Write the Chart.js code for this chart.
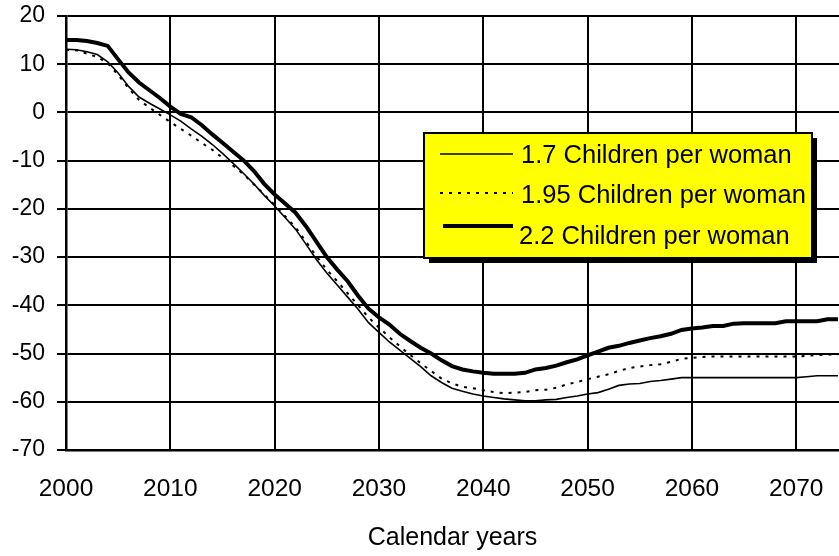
<!DOCTYPE html>
<html>
<head>
<meta charset="utf-8">
<script src="https://cdn.jsdelivr.net/npm/chart.js@4/dist/chart.umd.min.js"></script>
<style>
  html, body { margin: 0; padding: 0; background: #fff; }
  #wrap { width: 839px; height: 556px; }
</style>
</head>
<body>
<div id="wrap"><canvas id="chart"></canvas></div>
<script>
'use strict';

/* Data */
const years = [
  2000, 2001, 2002, 2003, 2004, 2005, 2006, 2007, 2008, 2009,
  2010, 2011, 2012, 2013, 2014, 2015, 2016, 2017, 2018, 2019,
  2020, 2021, 2022, 2023, 2024, 2025, 2026, 2027, 2028, 2029,
  2030, 2031, 2032, 2033, 2034, 2035, 2036, 2037, 2038, 2039,
  2040, 2041, 2042, 2043, 2044, 2045, 2046, 2047, 2048, 2049,
  2050, 2051, 2052, 2053, 2054, 2055, 2056, 2057, 2058, 2059,
  2060, 2061, 2062, 2063, 2064, 2065, 2066, 2067, 2068, 2069,
  2070, 2071, 2072, 2073, 2074
];

const seriesLabels = ['1.7 Children per woman', '1.95 Children per woman', '2.2 Children per woman'];

const low = [
  13.1, 13.0, 12.6, 12.0, 10.5, 8.2, 5.4, 3.2, 1.9, 0.7,
  -0.5, -1.8, -3.4, -4.9, -6.6, -8.5, -10.5, -12.6, -14.8, -17.2,
  -19.4, -21.8, -24.2, -27.3, -30.5, -33.3, -35.8, -38.3, -40.8, -43.6,
  -45.6, -47.6, -49.3, -51.0, -52.7, -54.6, -56.0, -57.2, -57.8, -58.4,
  -58.8, -59.1, -59.4, -59.6, -59.8, -59.8, -59.6, -59.5, -59.1, -58.8,
  -58.4, -58.1, -57.4, -56.6, -56.3, -56.2, -55.8, -55.6, -55.3, -55.0,
  -55.0, -55.0, -55.0, -55.0, -55.0, -55.0, -55.0, -55.0, -55.0, -55.0,
  -55.0, -54.8, -54.6, -54.6, -54.6
];

const mid = [
  13.0, 12.9, 12.2, 11.5, 10.2, 7.8, 5.0, 2.6, 1.0, -0.5,
  -2.0, -3.4, -4.8, -6.3, -7.7, -9.4, -11.0, -12.8, -14.9, -17.0,
  -19.2, -21.5, -23.8, -26.8, -29.8, -32.6, -35.0, -37.5, -40.0, -42.5,
  -44.6, -46.6, -48.5, -50.3, -52.0, -53.6, -55.2, -56.2, -56.9, -57.2,
  -57.6, -58.0, -58.2, -58.1, -58.0, -57.6, -57.5, -57.1, -56.4, -55.9,
  -55.3, -54.8, -54.3, -53.6, -53.0, -52.7, -52.4, -52.2, -51.7, -51.1,
  -50.9, -50.7, -50.6, -50.6, -50.6, -50.6, -50.6, -50.6, -50.6, -50.6,
  -50.6, -50.5, -50.3, -50.2, -50.2
];

const high = [
  15.0, 15.0, 14.8, 14.4, 13.8, 11.0, 8.3, 6.2, 4.6, 3.0,
  1.2, -0.3, -1.0, -2.6, -4.5, -6.3, -8.1, -9.9, -12.1, -14.8,
  -17.0, -18.9, -20.8, -23.6, -26.8, -30.0, -32.6, -35.0, -38.0, -40.7,
  -42.5, -44.0, -45.9, -47.4, -48.8, -50.0, -51.4, -52.6, -53.3, -53.7,
  -54.0, -54.2, -54.2, -54.2, -54.0, -53.3, -53.0, -52.5, -51.8, -51.2,
  -50.4, -49.6, -48.8, -48.4, -47.8, -47.3, -46.8, -46.4, -45.9, -45.1,
  -44.8, -44.6, -44.3, -44.3, -43.8, -43.7, -43.7, -43.7, -43.7, -43.3,
  -43.3, -43.3, -43.3, -42.9, -42.9
];

const xTicks = [2000, 2010, 2020, 2030, 2040, 2050, 2060, 2070];
const yTicks = [20, 10, 0, -10, -20, -30, -40, -50, -60, -70];
const xTitle = 'Calendar years';

const FONT = 'Liberation Sans, Arial, sans-serif';

function toPoints(values) {
  return values.map((v, i) => ({ x: years[i], y: v }));
}

/* Yellow boxed legend with drop shadow */
const boxLegend = {
  id: 'boxLegend',
  afterDraw(chart) {
    const ctx = chart.ctx;
    const left = 424, top = 133, w = 388, h = 125;
    ctx.save();
    ctx.fillStyle = '#000';
    ctx.fillRect(left + 5, top + 5, w, h);
    ctx.fillStyle = '#ffff00';
    ctx.fillRect(left, top, w, h);
    ctx.lineWidth = 2;
    ctx.strokeStyle = '#000';
    ctx.strokeRect(left, top, w, h);

    const rows = [
      { lineY: 154, textY: 163 },
      { lineY: 193, textY: 202.5 },
      { lineY: 226, textY: 244 }
    ];
    ctx.font = '25.5px ' + FONT;
    ctx.textBaseline = 'alphabetic';
    ctx.textAlign = 'left';
    chart.data.datasets.forEach((ds, i) => {
      const r = rows[i];
      ctx.beginPath();
      ctx.lineWidth = ds.borderWidth;
      ctx.setLineDash(ds.borderDash || []);
      ctx.moveTo(i === 2 ? 443 : 440, r.lineY);
      ctx.lineTo(513, r.lineY);
      ctx.stroke();
      ctx.setLineDash([]);
      ctx.fillStyle = '#000';
      ctx.fillText(ds.label, i === 2 ? 519 : 521, r.textY);
    });
    ctx.restore();
  }
};

function initChart() {
  const ctx = document.getElementById('chart').getContext('2d');
  new Chart(ctx, {
    type: 'line',
    data: {
      datasets: [
        { label: seriesLabels[0], data: toPoints(low), borderColor: '#000', borderWidth: 1.6, pointRadius: 0 },
        { label: seriesLabels[1], data: toPoints(mid), borderColor: '#000', borderWidth: 2, borderDash: [3, 6], pointRadius: 0 },
        { label: seriesLabels[2], data: toPoints(high), borderColor: '#000', borderWidth: 4, pointRadius: 0 }
      ]
    },
    options: {
      responsive: true,
      maintainAspectRatio: false,
      animation: false,
      layout: { padding: { top: 16, right: 0, left: 0, bottom: 0 } },
      plugins: { legend: { display: false }, tooltip: { enabled: false } },
      scales: {
        x: {
          type: 'linear',
          min: 2000,
          max: 2074.1,
          afterFit(scale) {
            scale.height = 106;
            scale.paddingLeft = 0;
            scale.paddingRight = 0;
          },
          afterBuildTicks(scale) { scale.ticks = xTicks.map(v => ({ value: v })); },
          grid: { color: '#000', lineWidth: 2, drawTicks: false },
          border: { color: '#000', width: 2.5 },
          ticks: {
            color: '#000',
            font: { family: FONT, size: 24.5 },
            padding: 25,
            maxRotation: 0,
            callback: v => String(v)
          },
          title: {
            display: true,
            text: xTitle,
            color: '#000',
            font: { family: FONT, size: 25 },
            padding: { top: 0, bottom: 3 }
          }
        },
        y: {
          min: -70,
          max: 20,
          afterFit(scale) {
            scale.width = 66;
            scale.paddingTop = 0;
            scale.paddingBottom = 0;
          },
          afterBuildTicks(scale) { scale.ticks = yTicks.map(v => ({ value: v })); },
          grid: { color: '#000', lineWidth: 2, tickLength: 9 },
          border: { color: '#000', width: 2.5 },
          ticks: {
            color: '#000',
            font: { family: FONT, size: 23 },
            padding: 12
          }
        }
      }
    },
    plugins: [boxLegend]
  });
}

document.addEventListener('DOMContentLoaded', initChart);
</script>
</body>
</html>
